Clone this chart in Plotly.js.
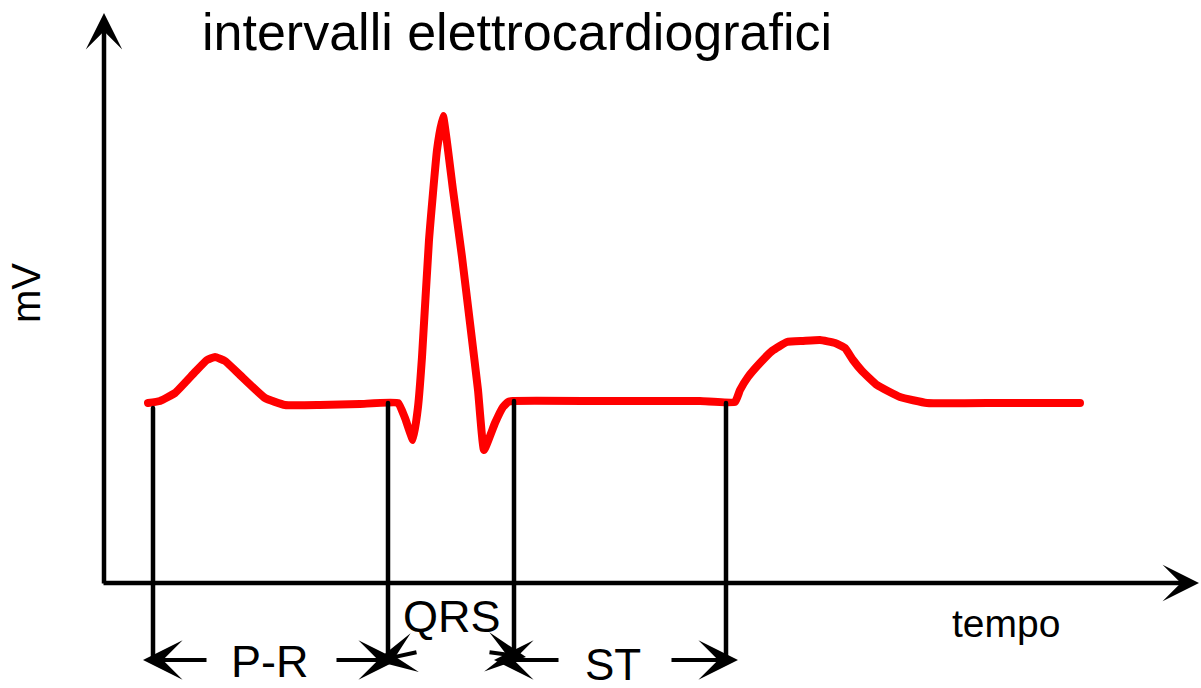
<!DOCTYPE html>
<html>
<head>
<meta charset="utf-8">
<script src="https://cdn.plot.ly/plotly-3.0.1.min.js"></script>
<style>
  html, body { margin: 0; padding: 0; background: #fff; }
  #chart { width: 1201px; height: 688px; }
  .scatterlayer .js-line { stroke-linejoin: round !important; stroke-linecap: round !important; }
</style>
</head>
<body>
<div id="chart"></div>
<script>
// ECG trace (tempo along x, mV along y; page-unit scale, y grows downward)
const tempo = [148,160,175,195,207,215,225,240,265,285,320,360,398,405,413,418,422,429,437,443,453,462,470,478,484,495,503,508,513,600,700,735,740,748,760,772,787,803,820,835,845,853,862,877,900,927,1000,1080];
const mV    = [403,401,393,372,360,357,361,375,398,405,405,404,403,418,440,407,357,240,150,116,190,257,323,390,450,423,407,402,401,401,401,402,390,377,363,351,342,341,340,343,348,360,371,385,397,403,403,403];

// interval boundaries (vertical markers)
const boundX   = [153, 388, 514, 726];
const boundTop = [408, 403, 401, 403];
const boundBottom = 660;

// labels
const titleText = "intervalli elettrocardiografici";
const yLabel = "mV";
const xLabel = "tempo";
const intervalLabels = ["P-R", "QRS", "ST"];

const FONT = '"Liberation Sans", Arial, Helvetica, sans-serif';

const traces = [{
  x: tempo, y: mV, type: 'scatter', mode: 'lines',
  line: { color: '#ff0000', width: 8, shape: 'spline', smoothing: 0.35 },
  hoverinfo: 'skip', showlegend: false
}];
boundX.forEach((bx, i) => {
  traces.push({
    x: [bx, bx], y: [boundTop[i], boundBottom], type: 'scatter', mode: 'lines',
    line: { color: '#000', width: 4.5 }, hoverinfo: 'skip', showlegend: false
  });
});

function arrow(tx, ty, hx, hy, w, s) {
  return {
    x: hx, y: hy, ax: tx, ay: ty, xref: 'x', yref: 'y', axref: 'x', ayref: 'y',
    text: '', showarrow: true, arrowhead: 3, arrowsize: s || 1.65, arrowwidth: w || 4,
    arrowcolor: '#000', standoff: 0, startstandoff: 0
  };
}
function label(t, x, y, size, angle) {
  return {
    x: x, y: y, xref: 'x', yref: 'y', text: t, showarrow: false,
    xanchor: 'center', yanchor: 'middle', textangle: angle || 0,
    font: { family: FONT, size: size, color: '#000' }
  };
}

const annotations = [
  // axes
  arrow(104, 585, 104, 13, 4.5, 1.35),
  arrow(102, 583, 1199, 583, 4.5, 1.35),
  // P-R
  arrow(208, 660, 143, 660),
  arrow(335, 660, 398, 660),
  // QRS
  arrow(418, 652, 376, 661),
  arrow(488, 652, 526, 657),
  // ST
  arrow(560, 660, 494, 660),
  arrow(670, 660, 738, 660),
  // texts
  label(titleText, 517, 32, 52),
  label(yLabel, 26, 293, 40, -90),
  label(xLabel, 1006, 623, 39),
  label(xLabel, 1006, -10, 39),
  label(intervalLabels[0], 270, 661, 45),
  label(intervalLabels[1], 452, 616, 45),
  label(intervalLabels[2], 613, 664, 44)
];

const layout = {
  width: 1201, height: 688,
  margin: { l: 0, r: 0, t: 0, b: 0, pad: 0 },
  paper_bgcolor: '#fff', plot_bgcolor: '#fff',
  showlegend: false,
  xaxis: { range: [0, 1201], visible: false, fixedrange: true },
  yaxis: { range: [688, 0], visible: false, fixedrange: true },
  annotations: annotations
};

Plotly.newPlot('chart', traces, layout, { staticPlot: true, displayModeBar: false });
</script>
</body>
</html>
